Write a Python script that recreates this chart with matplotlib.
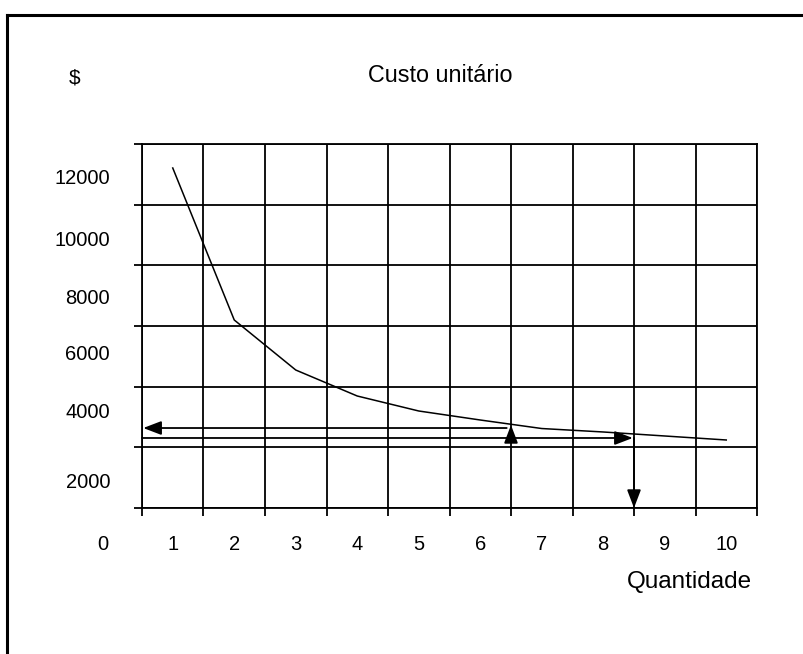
import numpy as np
import matplotlib
matplotlib.use("Agg")
from matplotlib import pyplot as plt
from matplotlib.lines import Line2D

# data
quantities = [1, 2, 3, 4, 5, 6, 7, 8, 9, 10]
unit_cost = [11209, 6198, 4549, 3692, 3198, 2901, 2620, 2506, 2374, 2242]

y_labels = ["12000", "10000", "8000", "6000", "4000", "2000"]
y_label_pos = [10879, 8835, 6923, 5044, 3132, 857]
x_labels = ["0", "1", "2", "3", "4", "5", "6", "7", "8", "9", "10"]
x_label_pos = [-0.63, 0.5, 1.5, 2.5, 3.5, 4.5, 5.5, 6.5, 7.5, 8.5, 9.5]

# arrows: (x_start, y_start, x_end, y_end)
arrows = [
    (5.93, 2637, 0.02, 2637),
    (0.0, 2308, 7.98, 2308),
    (6.0, 2308, 6.0, 2736),
    (8.0, 2308, 8.0, 0),
]

W, H = 804, 654
fig = plt.figure(figsize=(W / 100, H / 100), dpi=100)
plt.rcParams["font.family"] = ["Liberation Sans", "DejaVu Sans"]

ax = fig.add_axes([142 / W, 1 - 508 / H, (757 - 142) / W, (508 - 144) / H])
ax.set_xlim(0, 10)
ax.set_ylim(0, 12000)
ax.set_xticks(range(0, 11))
ax.set_yticks(range(0, 12001, 2000))
ax.grid(True, color="black", linewidth=1.3)
ax.tick_params(direction="out", length=6, width=1.3, color="black",
               labelbottom=False, labelleft=False)
for s in ax.spines.values():
    s.set_linewidth(1.3)

ax.plot(np.array(quantities) - 0.5, unit_cost, color="black", linewidth=1.1)

for x0, y0, x1, y1 in arrows:
    ax.annotate("", xy=(x1, y1), xytext=(x0, y0),
                arrowprops=dict(arrowstyle="-|>,head_length=1.1,head_width=0.42",
                                color="black", lw=1.3, shrinkA=0, shrinkB=0),
                annotation_clip=False)

for lab, y in zip(y_labels, y_label_pos):
    ax.text(-0.52, y, lab, ha="right", va="center", fontsize=14.5, clip_on=False)
for lab, x in zip(x_labels, x_label_pos):
    ax.text(x, -1187, lab, ha="center", va="center", fontsize=14.5, clip_on=False)

fig.text(75 / W, 1 - 78 / H, "$", ha="center", va="center", fontsize=15)
fig.text(440 / W, 1 - 75 / H, "Custo unitário", ha="center", va="center", fontsize=16.8)
fig.text(752 / W, 1 - 582 / H, "Quantidade", ha="right", va="center", fontsize=17.5)

# frame around the picture (top and left only)
fig.add_artist(Line2D([7 / W, 1], [1 - 15 / H, 1 - 15 / H], color="black", linewidth=2.2))
fig.add_artist(Line2D([7 / W, 7 / W], [1 - 15 / H, 0], color="black", linewidth=2.2))

fig.savefig("out.png", dpi=100)
